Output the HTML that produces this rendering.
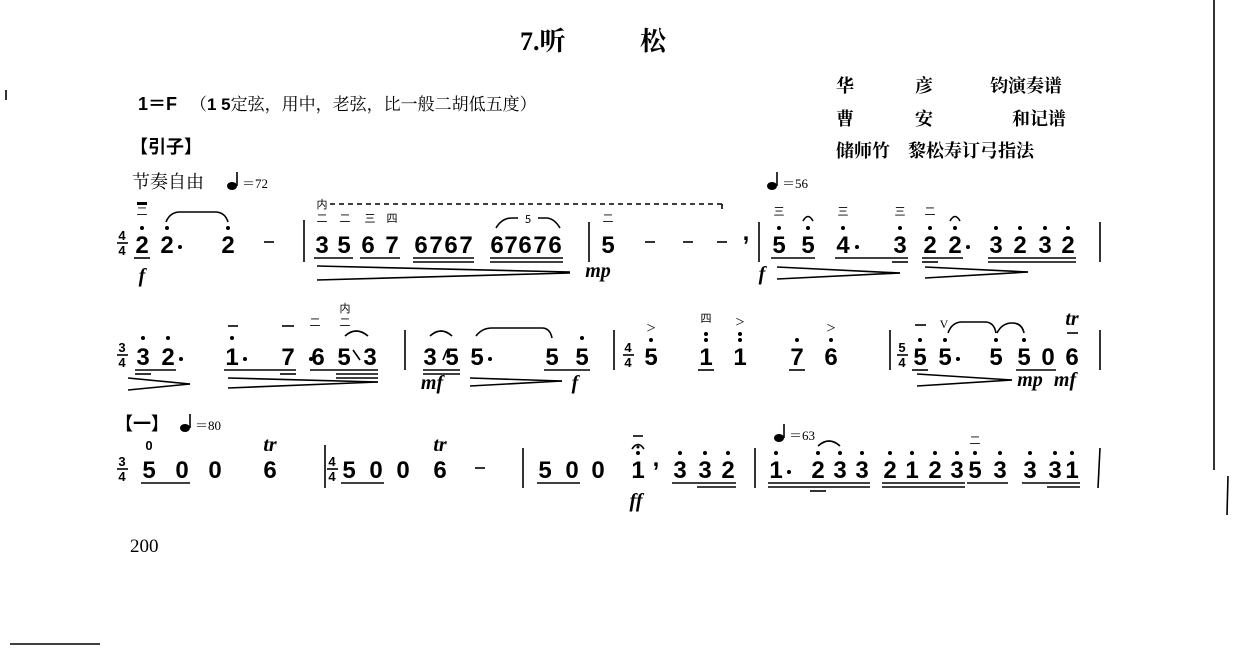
<!DOCTYPE html>
<html><head><meta charset="utf-8"><style>
html,body{margin:0;padding:0;background:#fff}
svg{display:block}
.n{font:bold 24px "Liberation Sans",sans-serif;text-anchor:middle;fill:#000}
.c{font-family:"Liberation Serif","Noto Serif CJK SC",serif;fill:#000}
.s{font-family:"Liberation Sans","Noto Sans CJK SC",sans-serif;fill:#000}
.ts{font:bold 13px "Liberation Sans",sans-serif;text-anchor:middle}
.dyn{font:italic bold 20px "Liberation Serif",serif;text-anchor:middle}
.fg{font:11px "Noto Sans CJK SC",sans-serif;text-anchor:middle}
line{stroke:#000;stroke-width:1.6}
path{fill:none;stroke:#000;stroke-width:1.6}
</style></head><body>
<svg width="1233" height="672" viewBox="0 0 1233 672" xmlns="http://www.w3.org/2000/svg">
<!-- page edges -->
<line x1="1214" y1="0" x2="1214" y2="470" stroke-width="3"/>
<line x1="10" y1="644" x2="100" y2="644" stroke-width="2"/>
<line x1="1228" y1="476" x2="1227" y2="515" stroke-width="2"/>
<line x1="6" y1="90" x2="6" y2="100"/>
<!-- header -->
<text x="520" y="50" class="c" font-size="26" font-weight="bold">7.听</text>
<text x="640" y="50" class="c" font-size="26" font-weight="bold">松</text>
<g font-weight="bold">
<text x="836" y="92" class="c" font-size="18">华</text>
<text x="915" y="92" class="c" font-size="18">彦</text>
<text x="990" y="92" class="c" font-size="18">钧演奏谱</text>
<text x="836" y="125" class="c" font-size="18">曹</text>
<text x="915" y="125" class="c" font-size="18">安</text>
<text x="1012" y="125" class="c" font-size="18">和记谱</text>
<text x="836" y="157" class="c" font-size="18">储师竹　黎松寿订弓指法</text>
</g>
<text x="138" y="110" class="s" font-size="18" font-weight="bold">1＝F</text>
<text x="190" y="110" class="c" font-size="17">（<tspan font-weight="bold" font-family="Liberation Sans">1 5</tspan>定弦，用中，老弦，比一般二胡低五度）</text>
<text x="130" y="153" class="s" font-size="18" font-weight="bold">【引子】</text>
<text x="132" y="188" class="c" font-size="18">节奏自由</text>
<ellipse cx="232" cy="186" rx="5" ry="4"/><line x1="237" y1="186" x2="237" y2="172"/>
<text x="242" y="188" class="c" font-size="13">＝72</text>
<ellipse cx="772" cy="186" rx="5" ry="4"/><line x1="777" y1="186" x2="777" y2="172"/>
<text x="782" y="188" class="c" font-size="13">＝56</text>

<!-- ROW 1 -->
<text x="122" y="240" class="ts">4</text><line x1="117" y1="243" x2="128" y2="243" stroke-width="1"/><text x="122" y="255" class="ts">4</text>
<text x="142" y="253" class="n">2</text><circle cx="142" cy="228" r="2"/><line x1="134" y1="258" x2="150" y2="258"/>
<text x="142" y="215" class="fg">二</text><rect x="137" y="202" width="10" height="3"/>
<text x="167" y="253" class="n">2</text><circle cx="167" cy="228" r="2"/><circle cx="180" cy="247" r="2"/>
<text x="228" y="253" class="n">2</text><circle cx="228" cy="228" r="2"/>
<path d="M166 222 Q170 212 180 212 L215 212 Q225 212 228 222"/>
<line x1="264" y1="242" x2="274" y2="242"/>
<line x1="304" y1="220" x2="304" y2="262"/>
<text x="142" y="282" class="dyn">f</text>
<text x="322" y="208" class="fg">内</text>
<line x1="330" y1="204" x2="722" y2="204" stroke-dasharray="5,4" stroke-width="1"/><line x1="722" y1="204" x2="722" y2="209" stroke-width="1"/>
<text x="322" y="222" class="fg">二</text><text x="345" y="222" class="fg">二</text><text x="370" y="222" class="fg">三</text><text x="392" y="222" class="fg">四</text>
<text x="322" y="253" class="n">3</text><text x="344" y="253" class="n">5</text><text x="368" y="253" class="n">6</text><text x="392" y="253" class="n">7</text>
<line x1="314" y1="258" x2="353" y2="258"/><line x1="360" y1="258" x2="400" y2="258"/>
<text x="421" y="253" class="n">6</text><text x="436" y="253" class="n">7</text><text x="451" y="253" class="n">6</text><text x="466" y="253" class="n">7</text>
<line x1="413" y1="258" x2="474" y2="258"/><line x1="413" y1="262" x2="474" y2="262"/>
<text x="497" y="253" class="n">6</text><text x="511" y="253" class="n">7</text><text x="525" y="253" class="n">6</text><text x="540" y="253" class="n">7</text><text x="555" y="253" class="n">6</text>
<line x1="490" y1="258" x2="563" y2="258"/><line x1="490" y1="262" x2="563" y2="262"/>
<path d="M496 228 Q502 218 512 218 L518 218"/><path d="M538 218 L546 218 Q554 218 560 228"/>
<text x="528" y="223" class="fg" font-size="12">5</text>
<line x1="317" y1="266" x2="570" y2="272" stroke-width="1.2"/><line x1="317" y1="280" x2="570" y2="273" stroke-width="1.2"/>
<line x1="589" y1="222" x2="589" y2="262"/>
<text x="608" y="222" class="fg">二</text>
<text x="608" y="253" class="n">5</text>
<text x="598" y="277" class="dyn" font-size="16">mp</text>
<line x1="645" y1="242" x2="655" y2="242"/><line x1="683" y1="242" x2="693" y2="242"/><line x1="717" y1="242" x2="727" y2="242"/>
<text x="746" y="240" class="n" font-size="18">,</text>
<line x1="759" y1="222" x2="759" y2="262"/>
<text x="779" y="215" class="fg">三</text><text x="843" y="215" class="fg">三</text><text x="900" y="215" class="fg">三</text><text x="930" y="215" class="fg">二</text>
<path d="M803 221 Q808 212 813 221"/><path d="M950 221 Q955 212 960 221"/>
<g><text x="779" y="253" class="n">5</text><circle cx="779" cy="228" r="2"/>
<text x="808" y="253" class="n">5</text><circle cx="808" cy="228" r="2"/>
<line x1="771" y1="258" x2="815" y2="258"/>
<text x="843" y="253" class="n">4</text><circle cx="843" cy="228" r="2"/><circle cx="857" cy="247" r="2"/>
<text x="900" y="253" class="n">3</text><circle cx="900" cy="228" r="2"/>
<line x1="835" y1="258" x2="908" y2="258"/><line x1="892" y1="262" x2="908" y2="262"/>
<text x="930" y="253" class="n">2</text><circle cx="930" cy="228" r="2"/>
<text x="955" y="253" class="n">2</text><circle cx="955" cy="228" r="2"/><circle cx="968" cy="247" r="2"/>
<line x1="922" y1="258" x2="963" y2="258"/><line x1="922" y1="262" x2="938" y2="262"/>
<text x="996" y="253" class="n">3</text><circle cx="996" cy="228" r="2"/>
<text x="1020" y="253" class="n">2</text><circle cx="1020" cy="228" r="2"/>
<text x="1045" y="253" class="n">3</text><circle cx="1045" cy="228" r="2"/>
<text x="1068" y="253" class="n">2</text><circle cx="1068" cy="228" r="2"/>
<line x1="988" y1="258" x2="1076" y2="258"/><line x1="988" y1="262" x2="1076" y2="262"/></g>
<text x="762" y="280" class="dyn">f</text>
<line x1="777" y1="267" x2="900" y2="273" stroke-width="1.2"/><line x1="777" y1="279" x2="900" y2="273" stroke-width="1.2"/>
<line x1="925" y1="267" x2="1028" y2="272" stroke-width="1.2"/><line x1="925" y1="278" x2="1028" y2="272" stroke-width="1.2"/>
<line x1="1100" y1="222" x2="1100" y2="262"/>

<!-- ROW 2 -->
<text x="122" y="352" class="ts">3</text><line x1="117" y1="355" x2="128" y2="355" stroke-width="1"/><text x="122" y="367" class="ts">4</text>
<text x="143" y="365" class="n">3</text><circle cx="143" cy="338" r="2"/>
<text x="168" y="365" class="n">2</text><circle cx="168" cy="338" r="2"/><circle cx="181" cy="359" r="2"/>
<line x1="135" y1="370" x2="176" y2="370"/><line x1="135" y1="374" x2="151" y2="374"/>
<line x1="128" y1="378" x2="190" y2="384" stroke-width="1.2"/><line x1="128" y1="390" x2="190" y2="384" stroke-width="1.2"/>
<line x1="228" y1="326" x2="238" y2="326"/><line x1="282" y1="326" x2="294" y2="326"/>
<text x="315" y="326" class="fg">二</text><text x="345" y="312" class="fg">内</text><text x="345" y="326" class="fg">二</text>
<text x="232" y="365" class="n">1</text><circle cx="232" cy="338" r="2"/><circle cx="245" cy="359" r="2"/>
<text x="288" y="365" class="n">7</text>
<line x1="224" y1="370" x2="296" y2="370"/><line x1="280" y1="374" x2="296" y2="374"/>
<circle cx="311" cy="359" r="2"/><text x="318" y="365" class="n">6</text>
<text x="344" y="365" class="n">5</text><text x="370" y="365" class="n">3</text>
<line x1="310" y1="370" x2="378" y2="370"/><line x1="336" y1="374" x2="378" y2="374"/><line x1="336" y1="378" x2="378" y2="378"/>
<path d="M345 336 Q356 326 368 336"/><line x1="353" y1="350" x2="360" y2="360" stroke-width="1"/>
<line x1="228" y1="378" x2="378" y2="382" stroke-width="1.2"/><line x1="228" y1="388" x2="378" y2="382" stroke-width="1.2"/>
<line x1="405" y1="330" x2="405" y2="370"/>
<text x="430" y="365" class="n">3</text><text x="452" y="365" class="n">5</text>
<line x1="443" y1="360" x2="447" y2="350" stroke-width="1"/>
<path d="M430 336 Q441 326 452 336"/>
<line x1="423" y1="370" x2="460" y2="370"/><line x1="423" y1="374" x2="460" y2="374"/>
<text x="432" y="389" class="dyn" font-size="17">mf</text>
<text x="477" y="365" class="n">5</text><circle cx="490" cy="359" r="2"/>
<text x="552" y="365" class="n">5</text><text x="582" y="365" class="n">5</text><circle cx="582" cy="338" r="2"/>
<line x1="544" y1="370" x2="590" y2="370"/>
<path d="M476 336 Q482 328 492 328 L542 328 Q550 328 552 338"/>
<line x1="470" y1="378" x2="562" y2="381" stroke-width="1.2"/><line x1="470" y1="386" x2="562" y2="381" stroke-width="1.2"/>
<text x="575" y="389" class="dyn">f</text>
<line x1="614" y1="330" x2="614" y2="370"/>
<text x="628" y="352" class="ts">4</text><line x1="623" y1="355" x2="634" y2="355" stroke-width="1"/><text x="628" y="367" class="ts">4</text>
<text x="651" y="365" class="n">5</text><circle cx="651" cy="340" r="2"/><text x="651" y="333" class="c" font-size="16" text-anchor="middle">&gt;</text>
<text x="706" y="322" class="fg">四</text>
<text x="706" y="365" class="n">1</text><circle cx="706" cy="340" r="2"/><circle cx="706" cy="334" r="2"/><line x1="698" y1="370" x2="714" y2="370"/>
<text x="740" y="365" class="n">1</text><circle cx="740" cy="340" r="2"/><circle cx="740" cy="334" r="2"/><text x="740" y="327" class="c" font-size="16" text-anchor="middle">&gt;</text>
<text x="797" y="365" class="n">7</text><circle cx="797" cy="340" r="2"/><line x1="789" y1="370" x2="805" y2="370"/>
<text x="831" y="365" class="n">6</text><circle cx="831" cy="340" r="2"/><text x="831" y="333" class="c" font-size="16" text-anchor="middle">&gt;</text>
<line x1="890" y1="330" x2="890" y2="370"/>
<text x="902" y="352" class="ts">5</text><line x1="897" y1="355" x2="908" y2="355" stroke-width="1"/><text x="902" y="367" class="ts">4</text>
<line x1="915" y1="325" x2="926" y2="325"/>
<text x="920" y="365" class="n">5</text><circle cx="920" cy="340" r="2"/><line x1="912" y1="370" x2="928" y2="370"/>
<text x="944" y="328" class="c" font-size="12" text-anchor="middle">V</text>
<text x="945" y="365" class="n">5</text><circle cx="945" cy="340" r="2"/><circle cx="958" cy="359" r="2"/>
<text x="996" y="365" class="n">5</text><circle cx="996" cy="340" r="2"/>
<path d="M948 333 Q952 322 962 322 L985 322 Q994 322 996 333"/>
<text x="1024" y="365" class="n">5</text><circle cx="1024" cy="340" r="2"/>
<path d="M997 333 Q1002 323 1012 323 Q1022 323 1024 333"/>
<text x="1048" y="365" class="n">0</text>
<line x1="1016" y1="370" x2="1056" y2="370"/>
<text x="1072" y="325" class="dyn" font-size="15">tr</text><line x1="1067" y1="333" x2="1078" y2="333"/>
<text x="1072" y="365" class="n">6</text>
<line x1="1100" y1="330" x2="1100" y2="370"/>
<line x1="917" y1="374" x2="1012" y2="380" stroke-width="1.2"/><line x1="917" y1="386" x2="1012" y2="380" stroke-width="1.2"/>
<text x="1030" y="386" class="dyn" font-size="16">mp</text><text x="1065" y="386" class="dyn" font-size="16">mf</text>

<!-- ROW 3 -->
<text x="115" y="430" class="s" font-size="18" font-weight="bold">【一】</text>
<ellipse cx="185" cy="428" rx="5" ry="4"/><line x1="190" y1="428" x2="190" y2="414"/>
<text x="195" y="430" class="c" font-size="13">＝80</text>
<ellipse cx="779" cy="438" rx="5" ry="4"/><line x1="784" y1="438" x2="784" y2="424"/>
<text x="789" y="440" class="c" font-size="13">＝63</text>
<text x="122" y="466" class="ts">3</text><line x1="117" y1="469" x2="128" y2="469" stroke-width="1"/><text x="122" y="481" class="ts">4</text>
<text x="149" y="450" class="ts" font-size="11">0</text>
<text x="149" y="478" class="n">5</text><text x="182" y="478" class="n">0</text>
<line x1="141" y1="483" x2="190" y2="483"/>
<text x="215" y="478" class="n">0</text>
<text x="270" y="451" class="dyn" font-size="14">tr</text>
<text x="270" y="478" class="n">6</text>
<line x1="325" y1="445" x2="325" y2="488"/>
<text x="332" y="466" class="ts">4</text><line x1="327" y1="469" x2="338" y2="469" stroke-width="1"/><text x="332" y="481" class="ts">4</text>
<text x="349" y="478" class="n">5</text><text x="376" y="478" class="n">0</text>
<line x1="341" y1="483" x2="384" y2="483"/>
<text x="403" y="478" class="n">0</text>
<text x="440" y="451" class="dyn" font-size="14">tr</text>
<text x="440" y="478" class="n">6</text>
<line x1="475" y1="468" x2="485" y2="468"/>
<line x1="523" y1="448" x2="523" y2="488"/>
<text x="545" y="478" class="n">5</text><text x="572" y="478" class="n">0</text>
<line x1="537" y1="483" x2="580" y2="483"/>
<text x="598" y="478" class="n">0</text>
<line x1="633" y1="436" x2="643" y2="436"/><path d="M632 449 Q638 440 644 449"/><circle cx="638" cy="447" r="1.5"/>
<text x="638" y="478" class="n">1</text><circle cx="638" cy="453" r="2"/>
<text x="636" y="507" class="dyn">ff</text>
<text x="656" y="466" class="n" font-size="18">,</text>
<text x="680" y="478" class="n">3</text><circle cx="680" cy="453" r="2"/>
<text x="705" y="478" class="n">3</text><circle cx="705" cy="453" r="2"/>
<text x="728" y="478" class="n">2</text><circle cx="728" cy="453" r="2"/>
<line x1="672" y1="483" x2="736" y2="483"/><line x1="697" y1="487" x2="736" y2="487"/>
<line x1="755" y1="448" x2="755" y2="488"/>
<text x="776" y="478" class="n">1</text><circle cx="776" cy="453" r="2"/><circle cx="789" cy="472" r="2"/>
<text x="818" y="478" class="n">2</text><circle cx="818" cy="453" r="2"/>
<text x="840" y="478" class="n">3</text><circle cx="840" cy="453" r="2"/>
<text x="862" y="478" class="n">3</text><circle cx="862" cy="453" r="2"/>
<path d="M818 446 Q829 436 840 446"/>
<line x1="768" y1="483" x2="870" y2="483"/><line x1="768" y1="487" x2="870" y2="487"/><line x1="810" y1="491" x2="826" y2="491"/>
<text x="890" y="478" class="n">2</text><circle cx="890" cy="453" r="2"/>
<text x="912" y="478" class="n">1</text><circle cx="912" cy="453" r="2"/>
<text x="935" y="478" class="n">2</text><circle cx="935" cy="453" r="2"/>
<text x="957" y="478" class="n">3</text><circle cx="957" cy="453" r="2"/>
<line x1="882" y1="483" x2="965" y2="483"/><line x1="882" y1="487" x2="965" y2="487"/>
<text x="975" y="444" class="fg">二</text>
<text x="975" y="478" class="n">5</text><circle cx="975" cy="453" r="2"/>
<text x="1000" y="478" class="n">3</text><circle cx="1000" cy="453" r="2"/>
<line x1="967" y1="483" x2="1008" y2="483"/>
<text x="1030" y="478" class="n">3</text><circle cx="1030" cy="453" r="2"/>
<text x="1055" y="478" class="n">3</text><circle cx="1055" cy="453" r="2"/>
<text x="1072" y="478" class="n">1</text><circle cx="1072" cy="453" r="2"/>
<line x1="1022" y1="483" x2="1080" y2="483"/><line x1="1047" y1="487" x2="1080" y2="487"/>
<line x1="1100" y1="448" x2="1098" y2="488"/>

<text x="130" y="552" class="c" font-size="19">200</text>
</svg>
</body></html>
